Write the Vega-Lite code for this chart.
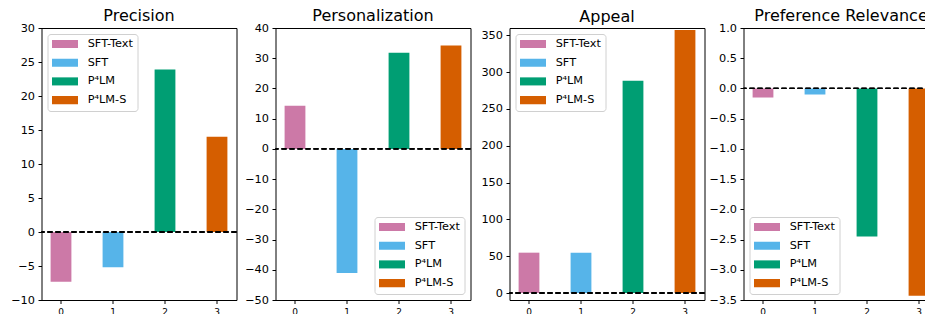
{
  "$schema": "https://vega.github.io/schema/vega-lite/v6.json",
  "padding": {"left": 6.5, "top": 7, "right": 0, "bottom": 0},
  "data": {"values": [
    {"metric": "Precision", "idx": 0, "model": "SFT-Text", "value": -7.3},
    {"metric": "Precision", "idx": 1, "model": "SFT", "value": -5.2},
    {"metric": "Precision", "idx": 2, "model": "P⁴LM", "value": 23.9},
    {"metric": "Precision", "idx": 3, "model": "P⁴LM-S", "value": 14.0},
    {"metric": "Personalization", "idx": 0, "model": "SFT-Text", "value": 14.3},
    {"metric": "Personalization", "idx": 1, "model": "SFT", "value": -41.1},
    {"metric": "Personalization", "idx": 2, "model": "P⁴LM", "value": 31.8},
    {"metric": "Personalization", "idx": 3, "model": "P⁴LM-S", "value": 34.2},
    {"metric": "Appeal", "idx": 0, "model": "SFT-Text", "value": 54.8},
    {"metric": "Appeal", "idx": 1, "model": "SFT", "value": 54.8},
    {"metric": "Appeal", "idx": 2, "model": "P⁴LM", "value": 288.5},
    {"metric": "Appeal", "idx": 3, "model": "P⁴LM-S", "value": 357.3},
    {"metric": "Preference Relevance", "idx": 0, "model": "SFT-Text", "value": -0.15},
    {"metric": "Preference Relevance", "idx": 1, "model": "SFT", "value": -0.10},
    {"metric": "Preference Relevance", "idx": 2, "model": "P⁴LM", "value": -2.45},
    {"metric": "Preference Relevance", "idx": 3, "model": "P⁴LM-S", "value": -3.43}
  ]},
  "resolve": {"legend": {"color": "independent"}, "scale": {"y": "independent"}},
  "hconcat": [
    {
      "title": "Precision",
      "width": 195, "height": 272,
      "transform": [{"filter": "datum.metric === 'Precision'"}],
      "layer": [
        {"mark": "bar", "encoding": {
          "x": {"field": "idx", "type": "ordinal", "scale": {"paddingInner": 0.6, "paddingOuter": 0.175}, "axis": {"labelAngle": 0, "title": null}},
          "y": {"field": "value", "type": "quantitative", "scale": {"domain": [-10, 30], "nice": false}, "axis": {"values": [-10, -5, 0, 5, 10, 15, 20, 25, 30], "tickCount": 50, "title": null}},
          "color": {"field": "model", "type": "nominal", "scale": {"domain": ["SFT-Text", "SFT", "P⁴LM", "P⁴LM-S"], "range": ["#CC79A7", "#56B4E9", "#009E73", "#D55E00"]}, "legend": {"orient": "top-left"}}
        }},
        {"mark": {"type": "rule", "strokeDash": [5, 3], "color": "black", "strokeWidth": 1.3}, "encoding": {"y": {"datum": 0}}}
      ]
    },
    {
      "title": "Personalization",
      "width": 195, "height": 272,
      "transform": [{"filter": "datum.metric === 'Personalization'"}],
      "layer": [
        {"mark": "bar", "encoding": {
          "x": {"field": "idx", "type": "ordinal", "scale": {"paddingInner": 0.6, "paddingOuter": 0.175}, "axis": {"labelAngle": 0, "title": null}},
          "y": {"field": "value", "type": "quantitative", "scale": {"domain": [-50, 40], "nice": false}, "axis": {"values": [-50, -40, -30, -20, -10, 0, 10, 20, 30, 40], "tickCount": 50, "title": null}},
          "color": {"field": "model", "type": "nominal", "scale": {"domain": ["SFT-Text", "SFT", "P⁴LM", "P⁴LM-S"], "range": ["#CC79A7", "#56B4E9", "#009E73", "#D55E00"]}, "legend": {"orient": "bottom-right"}}
        }},
        {"mark": {"type": "rule", "strokeDash": [5, 3], "color": "black", "strokeWidth": 1.3}, "encoding": {"y": {"datum": 0}}}
      ]
    },
    {
      "title": {"text": "Appeal", "offset": 3.25},
      "width": 195, "height": 272,
      "transform": [{"filter": "datum.metric === 'Appeal'"}],
      "layer": [
        {"mark": "bar", "encoding": {
          "x": {"field": "idx", "type": "ordinal", "scale": {"paddingInner": 0.6, "paddingOuter": 0.175}, "axis": {"labelAngle": 0, "title": null}},
          "y": {"field": "value", "type": "quantitative", "scale": {"domain": [-9.5, 360], "nice": false, "zero": false}, "axis": {"values": [0, 50, 100, 150, 200, 250, 300, 350], "tickCount": 50, "title": null}},
          "color": {"field": "model", "type": "nominal", "scale": {"domain": ["SFT-Text", "SFT", "P⁴LM", "P⁴LM-S"], "range": ["#CC79A7", "#56B4E9", "#009E73", "#D55E00"]}, "legend": {"orient": "top-left"}}
        }},
        {"mark": {"type": "rule", "strokeDash": [5, 3], "color": "black", "strokeWidth": 1.3}, "encoding": {"y": {"datum": 0}}}
      ]
    },
    {
      "title": "Preference Relevance",
      "width": 195, "height": 272,
      "transform": [{"filter": "datum.metric === 'Preference Relevance'"}],
      "layer": [
        {"mark": "bar", "encoding": {
          "x": {"field": "idx", "type": "ordinal", "scale": {"paddingInner": 0.6, "paddingOuter": 0.175}, "axis": {"labelAngle": 0, "title": null}},
          "y": {"field": "value", "type": "quantitative", "scale": {"domain": [-3.5, 1.0], "nice": false}, "axis": {"values": [-3.5, -3.0, -2.5, -2.0, -1.5, -1.0, -0.5, 0, 0.5, 1.0], "tickCount": 50, "format": ".1f", "title": null}},
          "color": {"field": "model", "type": "nominal", "scale": {"domain": ["SFT-Text", "SFT", "P⁴LM", "P⁴LM-S"], "range": ["#CC79A7", "#56B4E9", "#009E73", "#D55E00"]}, "legend": {"orient": "bottom-left"}}
        }},
        {"mark": {"type": "rule", "strokeDash": [5, 3], "color": "black", "strokeWidth": 1.3}, "encoding": {"y": {"datum": 0}}}
      ]
    }
  ],
  "config": {
    "font": "DejaVu Sans",
    "view": {"stroke": "black", "strokeWidth": 1},
    "concat": {"spacing": 2},
    "axis": {"domain": false, "grid": false, "tickColor": "black", "tickSize": 3.5, "labelColor": "black", "labelPadding": 3.5, "labelFontSize": 11.3, "labelOverlap": false, "labelBound": false, "labelFlush": false},
    "axisX": {"labelFontSize": 9, "labelPadding": 4},
    "axisY": {"minExtent": 34},
    "title": {"fontSize": 16, "fontWeight": "normal", "offset": -2.4, "color": "black"},
    "legend": {
      "title": null, "offset": 6, "padding": 4.5,
      "strokeColor": "#d0d0d0", "fillColor": "white", "cornerRadius": 3,
      "symbolType": "M-1,-0.31H1V0.31H-1Z", "symbolSize": 676, "symbolStrokeWidth": 0,
      "clipHeight": 11, "rowPadding": 6.7, "labelOffset": 9.7,
      "labelFontSize": 11.3, "labelColor": "black", "symbolOpacity": 1
    }
  }
}
